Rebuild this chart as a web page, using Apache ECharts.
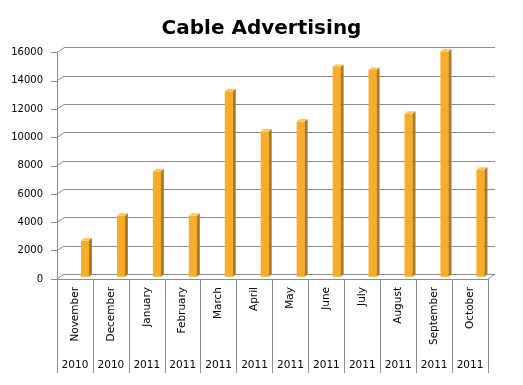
<!DOCTYPE html>
<html>
<head>
<meta charset="utf-8">
<script src="https://cdn.jsdelivr.net/npm/echarts@6/dist/echarts.min.js"></script>
<style>
html,body{margin:0;padding:0;background:#fff;}
#chart{width:523px;height:385px;}
</style>
</head>
<body>
<div id="chart"></div>
<script>
const categories = ['November','December','January','February','March','April','May','June','July','August','September','October'];
const years = ['2010','2010','2011','2011','2011','2011','2011','2011','2011','2011','2011','2011'];
const values = [2550, 4300, 7450, 4300, 13100, 10250, 10950, 14800, 14600, 11500, 15900, 7550];
const yTicks = [0, 2000, 4000, 6000, 8000, 10000, 12000, 14000, 16000];

const FONT = 'DejaVu Sans';
const GRAY = '#8c8c8c';
const DX = 7, DY = 4.7;

const chart = echarts.init(document.getElementById('chart'), null, {renderer: 'canvas'});

chart.setOption({
  animation: false,
  backgroundColor: '#ffffff',
  title: {
    text: 'Cable Advertising',
    left: 'center',
    top: 14,
    textStyle: {fontFamily: FONT, fontWeight: 'bold', fontSize: 20, color: '#000'}
  },
  grid: [
    {left: 57, right: 35, top: 52.5, bottom: 106},
    {left: 64, right: 28, top: 47.7, bottom: 110.7},
    {left: 67, right: 24.6, top: 50.1, bottom: 108.3}
  ],
  xAxis: [
    {
      gridIndex: 0, type: 'category', data: categories, position: 'bottom',
      axisLine: {show: true, lineStyle: {color: GRAY}},
      axisTick: {show: true, length: 94, lineStyle: {color: GRAY}},
      axisLabel: {rotate: 90, interval: 0, margin: 8, fontFamily: FONT, fontSize: 10.5, color: '#000'}
    },
    {
      gridIndex: 0, type: 'category', data: years, position: 'bottom', offset: 73,
      axisLine: {show: false}, axisTick: {show: false},
      axisLabel: {interval: 0, margin: 8, fontFamily: FONT, fontSize: 10.5, color: '#000'}
    },
    {gridIndex: 1, type: 'category', data: categories, show: false},
    {gridIndex: 2, type: 'category', data: categories, show: false}
  ],
  yAxis: [
    {
      gridIndex: 0, type: 'value', min: 0, max: 16000, interval: 2000,
      axisLine: {show: true, lineStyle: {color: GRAY}},
      axisTick: {show: true, length: 6, lineStyle: {color: GRAY}},
      axisLabel: {margin: 14, fontFamily: FONT, fontSize: 10, color: '#000', formatter: v => String(v)},
      splitLine: {show: false}
    },
    {
      gridIndex: 1, type: 'value', min: 0, max: 16000, interval: 2000,
      axisLine: {show: false}, axisTick: {show: false}, axisLabel: {show: false},
      splitLine: {show: true, lineStyle: {color: GRAY, width: 1}}
    },
    {gridIndex: 2, type: 'value', min: 0, max: 16000, interval: 2000, show: false, splitLine: {show: false}}
  ],
  series: [
    {
      type: 'custom', xAxisIndex: 0, yAxisIndex: 0, silent: true, clip: false,
      data: yTicks.map(v => [0, v]),
      renderItem: function (params, api) {
        const cs = params.coordSys;
        const v = api.value(1);
        const y = api.coord([0, v])[1];
        const children = [{
          type: 'line',
          shape: {x1: cs.x, y1: y, x2: cs.x + DX, y2: y - DY},
          style: {stroke: GRAY, lineWidth: 1}
        }];
        if (v === 0) {
          children.push({
            type: 'line',
            shape: {x1: cs.x + cs.width, y1: y, x2: cs.x + cs.width + DX, y2: y - DY},
            style: {stroke: GRAY, lineWidth: 1}
          });
        }
        return {type: 'group', children: children};
      }
    },
    {
      type: 'custom', xAxisIndex: 3, yAxisIndex: 2, silent: true, clip: false,
      data: values.map((v, i) => [i, v]),
      renderItem: function (params, api) {
        const i = api.value(0);
        const base = api.coord([i, 0]);
        const top = api.coord([i, api.value(1)]);
        const c = top[0], hw = 4, dx = 3, dy = 2.5;
        return {
          type: 'group',
          children: [
            {type: 'rect', shape: {x: c - hw, y: top[1], width: hw * 2, height: base[1] - top[1]},
             style: {fill: '#F8AC28'}},
            {type: 'polygon', shape: {points: [[c + hw, top[1]], [c + hw + dx, top[1] - dy], [c + hw + dx, base[1] - dy], [c + hw, base[1]]]},
             style: {fill: '#B27A17'}},
            {type: 'polygon', shape: {points: [[c - hw, top[1]], [c + hw, top[1]], [c + hw + dx, top[1] - dy], [c - hw + dx, top[1] - dy]]},
             style: {fill: '#FDC55A'}}
          ]
        };
      }
    }
  ]
});
</script>
</body>
</html>
